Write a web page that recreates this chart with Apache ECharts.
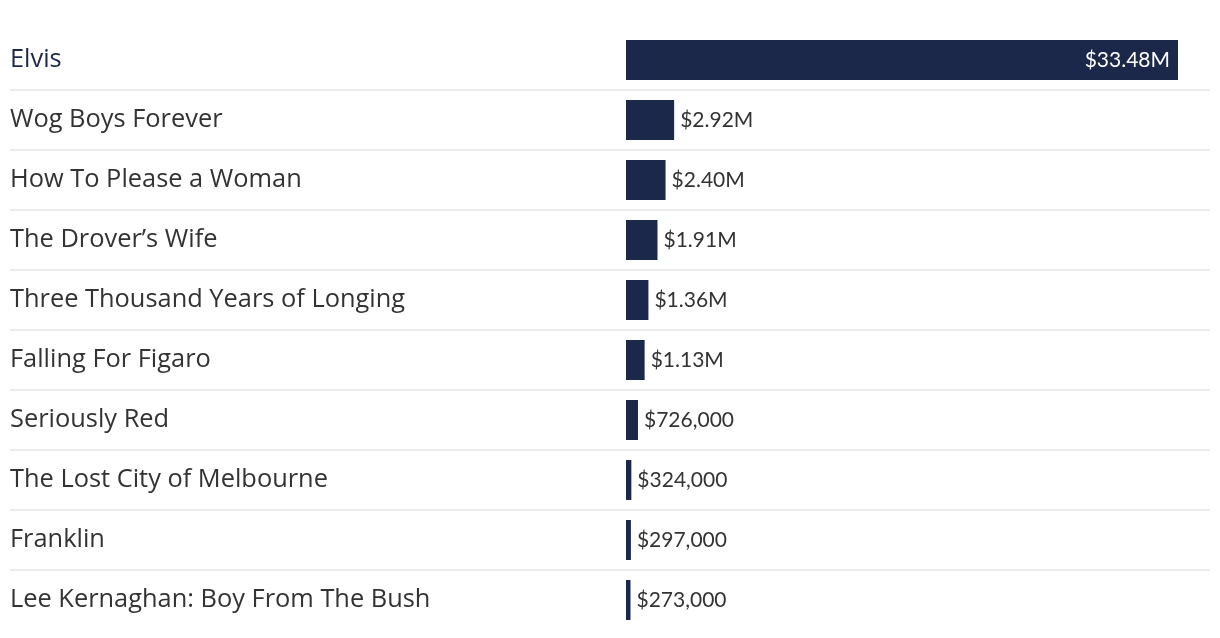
<!DOCTYPE html>
<html><head><meta charset="utf-8">
<script src="https://cdn.jsdelivr.net/npm/echarts@6/dist/echarts.min.js"></script>
<style>html,body{margin:0;padding:0;background:#fff}#c{width:1220px;height:638px}</style>
</head><body><div id="c"></div>
<script>
const films = ["Elvis","Wog Boys Forever","How To Please a Woman","The Drover\u2019s Wife","Three Thousand Years of Longing","Falling For Figaro","Seriously Red","The Lost City of Melbourne","Franklin","Lee Kernaghan: Boy From The Bush"];
const grosses = [33480000,2920000,2400000,1910000,1360000,1130000,726000,324000,297000,273000];

const NAVY = '#1c2849';
function fmt(v){
  if (v >= 1e6) return '$' + (v/1e6).toFixed(2) + 'M';
  return '$' + v.toLocaleString('en-US');
}
const chart = echarts.init(document.getElementById('c'), null, {renderer:'canvas'});
chart.setOption({
  animation:false,
  grid:[
    {left:10, right:10, top:30, height:600},
    {left:626, width:552, top:30, height:600}
  ],
  xAxis:[
    {gridIndex:0, type:'value', show:false, min:0, max:1},
    {gridIndex:1, type:'value', show:false, min:0, max:grosses[0]}
  ],
  yAxis:[
    {gridIndex:0, type:'category', data:films, inverse:true,
     axisLine:{show:false}, axisTick:{show:false},
     splitLine:{show:true, showMinLine:false, showMaxLine:false, lineStyle:{color:'#ebebeb', width:2}},
     axisLabel:{inside:true, margin:0, fontFamily:'Open Sans', fontSize:25.4, padding:[4,0,0,0],
       color:(v, i)=> i===0 ? NAVY : '#333333'}},
    {gridIndex:1, type:'category', data:films, inverse:true, show:false}
  ],
  series:[{
    type:'bar', xAxisIndex:1, yAxisIndex:1, barWidth:40,
    itemStyle:{color:NAVY},
    data: grosses.map((v,i)=>({
      value:v,
      label: i===0 ? {position:'insideRight', color:'#ffffff', distance:8} : {position:'right', color:'#333333', distance:6}
    })),
    label:{show:true, fontFamily:'Lato', fontSize:21, formatter:p=>fmt(p.value)}
  }]
});
</script></body></html>
